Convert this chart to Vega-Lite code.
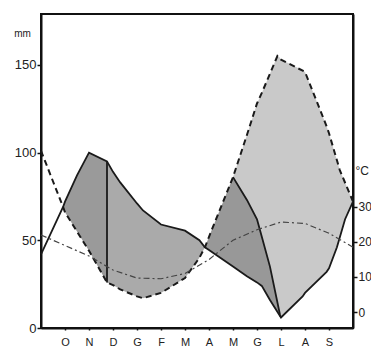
{
  "$schema": "https://vega.github.io/schema/vega-lite/v6.json",
  "width": 312,
  "height": 314,
  "autosize": {"type": "none"},
  "padding": {"left": 41, "top": 14, "right": 18, "bottom": 18},
  "background": "white",
  "config": {
    "view": {"stroke": "#111", "strokeWidth": 2},
    "font": "Liberation Sans",
    "axis": {"grid": false, "domainColor": "#111", "domainWidth": 2, "tickColor": "#111", "tickWidth": 1.5, "labelColor": "#222", "labelFont": "Liberation Sans", "titleFont": "Liberation Sans", "titleColor": "#222", "titleFontWeight": "normal"}
  },
  "datasets": {
    "regions": [
      {"region": "ricarica", "x": -0.08, "mm": 69, "lo": 69},
      {"region": "ricarica", "x": 0, "mm": 72, "lo": 66},
      {"region": "ricarica", "x": 0.5, "mm": 87, "lo": 55},
      {"region": "ricarica", "x": 1, "mm": 100, "lo": 44},
      {"region": "ricarica", "x": 1.75, "mm": 95, "lo": 26},
      {"region": "surplus", "x": 1.75, "mm": 95, "lo": 26},
      {"region": "surplus", "x": 2, "mm": 89, "lo": 24.5},
      {"region": "surplus", "x": 2.3, "mm": 83, "lo": 22},
      {"region": "surplus", "x": 3, "mm": 71, "lo": 18},
      {"region": "surplus", "x": 3.25, "mm": 67, "lo": 17},
      {"region": "surplus", "x": 4, "mm": 59, "lo": 20},
      {"region": "surplus", "x": 5, "mm": 55.5, "lo": 28.5},
      {"region": "surplus", "x": 5.6, "mm": 50, "lo": 40},
      {"region": "surplus", "x": 5.83, "mm": 46, "lo": 46},
      {"region": "utilizzo", "x": 5.83, "mm": 46, "lo": 46},
      {"region": "utilizzo", "x": 6, "mm": 52, "lo": 44.5},
      {"region": "utilizzo", "x": 7, "mm": 86, "lo": 35},
      {"region": "utilizzo", "x": 7.58, "mm": 73, "lo": 29.5},
      {"region": "utilizzo", "x": 8, "mm": 62, "lo": 26},
      {"region": "utilizzo", "x": 8.2, "mm": 52, "lo": 24},
      {"region": "utilizzo", "x": 8.54, "mm": 35, "lo": 16},
      {"region": "utilizzo", "x": 8.96, "mm": 7.4, "lo": 7},
      {"region": "utilizzo", "x": 9, "mm": 6, "lo": 6},
      {"region": "deficit", "x": 7, "mm": 86, "lo": 86},
      {"region": "deficit", "x": 7.58, "mm": 110, "lo": 73},
      {"region": "deficit", "x": 8, "mm": 128, "lo": 62},
      {"region": "deficit", "x": 8.2, "mm": 134, "lo": 52},
      {"region": "deficit", "x": 8.54, "mm": 145, "lo": 35},
      {"region": "deficit", "x": 8.85, "mm": 155, "lo": 14.6},
      {"region": "deficit", "x": 8.96, "mm": 154, "lo": 7.4},
      {"region": "deficit", "x": 9, "mm": 153, "lo": 6},
      {"region": "deficit", "x": 9.9, "mm": 147, "lo": 18},
      {"region": "deficit", "x": 10, "mm": 146, "lo": 20},
      {"region": "deficit", "x": 10.9, "mm": 115, "lo": 32},
      {"region": "deficit", "x": 11, "mm": 111, "lo": 34},
      {"region": "deficit", "x": 11.33, "mm": 95.6, "lo": 46},
      {"region": "deficit", "x": 11.45, "mm": 90, "lo": 51.6},
      {"region": "deficit", "x": 11.67, "mm": 83, "lo": 62},
      {"region": "deficit", "x": 12, "mm": 72, "lo": 72}
    ],
    "pe": [
      {"x": -1, "mm": 101}, {"x": -0.08, "mm": 69}, {"x": 0, "mm": 66}, {"x": 0.5, "mm": 55},
      {"x": 1, "mm": 44}, {"x": 1.75, "mm": 26}, {"x": 2, "mm": 24.5}, {"x": 2.3, "mm": 22},
      {"x": 3, "mm": 18}, {"x": 3.25, "mm": 17}, {"x": 4, "mm": 20}, {"x": 5, "mm": 28.5},
      {"x": 5.6, "mm": 40}, {"x": 5.83, "mm": 46}, {"x": 6, "mm": 52}, {"x": 7, "mm": 86},
      {"x": 7.58, "mm": 110}, {"x": 8, "mm": 128}, {"x": 8.2, "mm": 134}, {"x": 8.54, "mm": 145},
      {"x": 8.85, "mm": 155}, {"x": 9, "mm": 153}, {"x": 10, "mm": 146}, {"x": 10.9, "mm": 115},
      {"x": 11, "mm": 111}, {"x": 11.45, "mm": 90}, {"x": 12, "mm": 72}
    ],
    "p": [
      {"x": -1, "mm": 42}, {"x": -0.08, "mm": 69}, {"x": 0, "mm": 72}, {"x": 0.5, "mm": 87},
      {"x": 1, "mm": 100}, {"x": 1.75, "mm": 95}, {"x": 2, "mm": 89}, {"x": 2.3, "mm": 83},
      {"x": 3, "mm": 71}, {"x": 3.25, "mm": 67}, {"x": 4, "mm": 59}, {"x": 5, "mm": 55.5},
      {"x": 5.6, "mm": 50}, {"x": 5.83, "mm": 46}, {"x": 6, "mm": 44.5}, {"x": 7, "mm": 35},
      {"x": 7.58, "mm": 29.5}, {"x": 8, "mm": 26}, {"x": 8.2, "mm": 24}, {"x": 8.54, "mm": 16},
      {"x": 9, "mm": 6}, {"x": 9.9, "mm": 18}, {"x": 10, "mm": 20}, {"x": 10.9, "mm": 32},
      {"x": 11, "mm": 34}, {"x": 11.33, "mm": 46}, {"x": 11.67, "mm": 62}, {"x": 12, "mm": 72}
    ],
    "ae": [
      {"x": 7, "mm": 86}, {"x": 7.58, "mm": 73}, {"x": 8, "mm": 62}, {"x": 8.2, "mm": 52},
      {"x": 8.54, "mm": 35}, {"x": 8.96, "mm": 7.4}, {"x": 9, "mm": 6}
    ],
    "div": [{"x": 1.75, "mm": 26, "hi": 95}],
    "t": [
      {"x": -1, "t": 22}, {"x": 0, "t": 19}, {"x": 1, "t": 16}, {"x": 2, "t": 12},
      {"x": 3, "t": 9.7}, {"x": 4, "t": 9.5}, {"x": 5, "t": 11}, {"x": 6, "t": 15},
      {"x": 7, "t": 20.5}, {"x": 8, "t": 23.5}, {"x": 9, "t": 25.7}, {"x": 10, "t": 25.3},
      {"x": 11, "t": 22.5}, {"x": 12, "t": 18.5}
    ]
  },
  "encoding": {
    "x": {"field": "x", "type": "quantitative", "scale": {"domain": [-1, 12], "nice": false, "zero": false},
      "axis": {"values": [0,1,2,3,4,5,6,7,8,9,10,11], "title": null, "labelExpr": "['O','N','D','G','F','M','A','M','G','L','A','S'][datum.value]", "labelFontSize": 11, "tickSize": 2, "labelPadding": 6}}
  },
  "layer": [
    {
      "encoding": {
        "y": {"field": "mm", "type": "quantitative", "scale": {"domain": [0, 179], "nice": false},
          "axis": {"orient": "left", "values": [0, 50, 100, 150], "labelFontSize": 13, "tickSize": 4, "labelPadding": 1, "title": "mm", "titleAngle": 0, "titleX": -19, "titleY": 19, "titleAlign": "center", "titleBaseline": "middle", "titleFontSize": 10}}
      },
      "layer": [
        {
          "data": {"name": "regions"},
          "mark": {"type": "area", "opacity": 1},
          "encoding": {
            "y2": {"field": "lo"},
            "fill": {"field": "region", "type": "nominal", "legend": null,
              "scale": {"domain": ["ricarica", "surplus", "utilizzo", "deficit"], "range": ["#9a9a9a", "#aaaaaa", "#989898", "#c9c9c9"]}}
          }
        },
        {
          "data": {"name": "pe"},
          "mark": {"type": "line", "color": "#1a1a1a", "strokeWidth": 2, "strokeDash": [6, 4]},
          "encoding": {}
        },
        {
          "data": {"name": "p"},
          "mark": {"type": "line", "color": "#1a1a1a", "strokeWidth": 1.8},
          "encoding": {}
        },
        {
          "data": {"name": "ae"},
          "mark": {"type": "line", "color": "#1a1a1a", "strokeWidth": 1.8},
          "encoding": {}
        },
        {
          "data": {"name": "div"},
          "mark": {"type": "rule", "color": "#1a1a1a", "strokeWidth": 1.8},
          "encoding": {"y2": {"field": "hi"}}
        }
      ]
    },
    {
      "data": {"name": "t"},
      "mark": {"type": "line", "color": "#444", "strokeWidth": 1.2, "strokeDash": [6, 3, 2, 3]},
      "encoding": {
        "y": {"field": "t", "type": "quantitative", "scale": {"domain": [-4.571, 85.14], "nice": false, "zero": false},
          "axis": {"orient": "right", "values": [0, 10, 20, 30], "labelFontSize": 12, "tickSize": 4, "labelPadding": 1, "title": "°C", "titleAngle": 0, "titleX": 2, "titleY": 156, "titleAlign": "left", "titleBaseline": "middle", "titleFontSize": 12}}
      }
    }
  ],
  "resolve": {"scale": {"y": "independent"}}
}
